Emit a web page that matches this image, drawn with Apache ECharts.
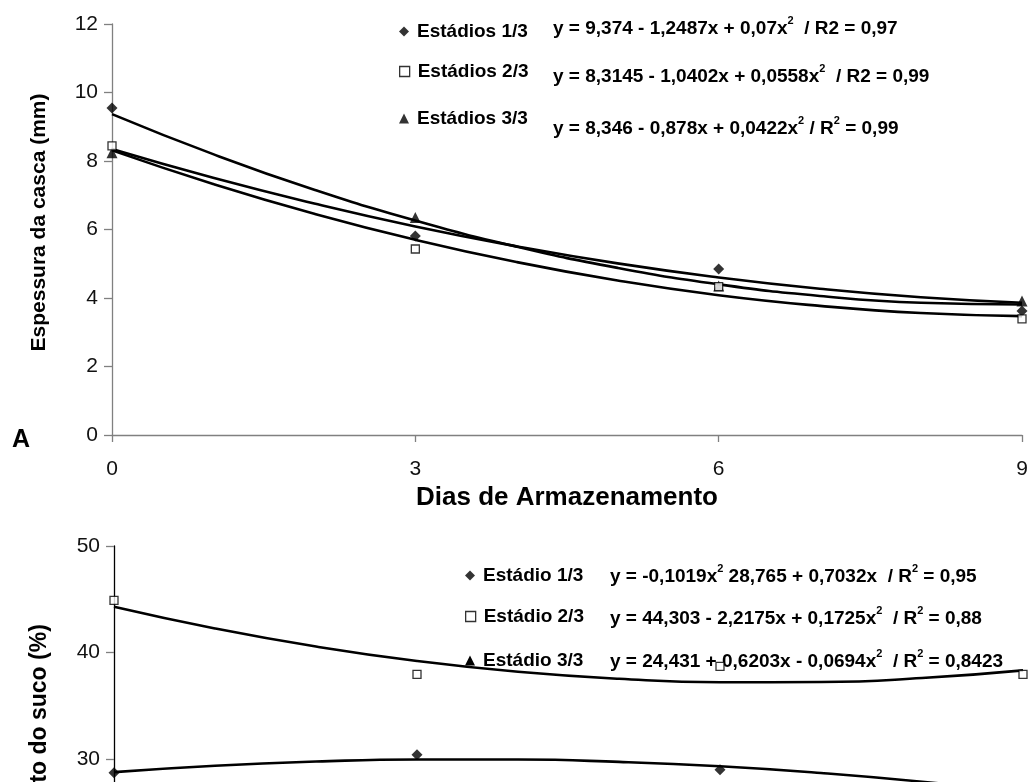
<!DOCTYPE html>
<html>
<head>
<meta charset="utf-8">
<script src="https://cdn.jsdelivr.net/npm/echarts@6/dist/echarts.min.js"></script>
<style>
  html, body { margin: 0; padding: 0; background: #fff; }
  #chart { width: 1030px; height: 782px; }
</style>
</head>
<body>
<div id="chart"></div>
<script>
// Storage days (x axis)
const days = [0, 3, 6, 9];
const curveDays = [0, 1, 2, 3, 4, 5, 6, 7, 8, 9];
const xTicks = ['0', '3', '6', '9'];

// Panel A: peel thickness (mm), observed means
const casca1 = [9.55, 5.81, 4.85, 3.62];
const casca2 = [8.44, 5.43, 4.33, 3.39];
const casca3 = [8.24, 6.35, 4.35, 3.91];
// Panel A: fitted quadratic curves
const cascaFit1 = [9.37, 8.20, 7.16, 6.26, 5.50, 4.88, 4.40, 4.06, 3.86, 3.81];
const cascaFit2 = [8.31, 7.33, 6.46, 5.70, 5.05, 4.51, 4.08, 3.77, 3.56, 3.47];
const cascaFit3 = [8.35, 7.51, 6.76, 6.09, 5.51, 5.01, 4.60, 4.27, 4.02, 3.86];

// Panel B: juice yield (%), observed means
const suco1 = [28.7, 30.4, 29.0, null];
const suco2 = [44.9, 37.95, 38.7, 37.95];
// Panel B: fitted quadratic curves
const sucoFit1 = [28.77, 29.37, 29.76, 29.96, 29.95, 29.73, 29.32, 28.69, 27.87, 26.84];
const sucoFit2 = [44.30, 42.26, 40.56, 39.20, 38.19, 37.53, 37.21, 37.23, 37.60, 38.32];
const sucoFit3 = [24.43, 24.98, 25.39, 25.67, 25.80, 25.80, 25.65, 25.37, 24.95, 24.39];

const namesA = ['Estádios 1/3', 'Estádios 2/3', 'Estádios 3/3'];
const namesB = ['Estádio 1/3', 'Estádio 2/3', 'Estádio 3/3'];

const FONT = '"Liberation Sans", Arial, Helvetica, sans-serif';

const pairs = (xs, ys) => xs.map((x, i) => [x, ys[i]]);

const styleDiamond = { color: '#000' };
const styleSquare = { color: '#fff', borderColor: '#000', borderWidth: 1.3 };
const styleTriangle = { color: '#000' };

function scatter(name, data, idx, symbol, size, itemStyle) {
  return {
    name, type: 'scatter', xAxisIndex: idx, yAxisIndex: idx,
    data, symbol, symbolSize: size, itemStyle, z: 5, silent: true
  };
}
function fitLine(name, values, idx) {
  return {
    name, type: 'line', xAxisIndex: idx, yAxisIndex: idx,
    data: pairs(curveDays, values), smooth: true, showSymbol: false,
    lineStyle: { color: '#000', width: 2.6 }, z: 3, silent: true
  };
}

const eqRich = {
  b: { fontFamily: FONT, fontWeight: 'bold', fontSize: 19, fill: '#000', color: '#000', verticalAlign: 'bottom', lineHeight: 23 },
  s: { fontFamily: FONT, fontWeight: 'bold', fontSize: 11, fill: '#000', color: '#000', verticalAlign: 'top', lineHeight: 23 }
};
function eq(x, y, text) {
  return {
    type: 'text', left: x, top: y,
    style: { text, rich: eqRich, fill: '#000' }, silent: true
  };
}

function legendBox(left, top, name, icon, itemStyle) {
  return {
    left, top, orient: 'vertical', itemWidth: 10, itemHeight: 10, itemGap: 0,
    selectedMode: false, padding: 0,
    textStyle: { fontFamily: FONT, fontWeight: 'bold', fontSize: 19, color: '#000', padding: [0, 0, 0, 3] },
    data: [{ name, icon, itemStyle }]
  };
}

const axisGray = '#808080';

const option = {
  backgroundColor: '#fff',
  animation: false,
  textStyle: { fontFamily: FONT },
  grid: [
    { left: 112, top: 24, width: 910, height: 411, outerBoundsMode: 'none', containLabel: false },
    { left: 114, top: 546, width: 909, height: 426, outerBoundsMode: 'none', containLabel: false }
  ],
  xAxis: [
    {
      gridIndex: 0, type: 'value', min: 0, max: 9, interval: 3,
      name: 'Dias de Armazenamento', nameLocation: 'middle', nameGap: 49,
      nameTextStyle: { fontFamily: FONT, fontWeight: 'bold', fontSize: 26, color: '#000' },
      axisLine: { lineStyle: { color: axisGray, width: 1.3 } },
      axisTick: { show: true, inside: false, length: 7, lineStyle: { color: axisGray, width: 1.3 } },
      axisLabel: { fontFamily: FONT, fontSize: 21, color: '#111', margin: 24,
        formatter: v => xTicks[days.indexOf(v)] },
      splitLine: { show: false }
    },
    {
      gridIndex: 1, type: 'value', min: 0, max: 9, interval: 3,
      axisLine: { lineStyle: { color: '#000', width: 1.3 } },
      axisTick: { length: 7, lineStyle: { color: '#000' } },
      axisLabel: { fontFamily: FONT, fontSize: 21, color: '#111', margin: 24 },
      splitLine: { show: false }
    }
  ],
  yAxis: [
    {
      gridIndex: 0, type: 'value', min: 0, max: 12, interval: 2,
      name: 'Espessura da casca (mm)', nameLocation: 'middle', nameGap: 62,
      nameTextStyle: { fontFamily: FONT, fontWeight: 'bold', fontSize: 21, color: '#000', padding: [0, 0, 0, 14] },
      axisLine: { show: true, lineStyle: { color: axisGray, width: 1.3 } },
      axisTick: { show: true, length: 8, lineStyle: { color: axisGray, width: 1.3 } },
      axisLabel: { fontFamily: FONT, fontSize: 21, color: '#111', margin: 14 },
      splitLine: { show: false }
    },
    {
      gridIndex: 1, type: 'value', min: 10, max: 50, interval: 10,
      name: 'Rendimento do suco (%)', nameLocation: 'middle', nameGap: 63,
      nameTextStyle: { fontFamily: FONT, fontWeight: 'bold', fontSize: 23, color: '#000' },
      axisLine: { show: true, lineStyle: { color: '#000', width: 1.3 } },
      axisTick: { show: true, length: 8, lineStyle: { color: axisGray, width: 1.3 } },
      axisLabel: { fontFamily: FONT, fontSize: 21, color: '#111', margin: 14 },
      splitLine: { show: false }
    }
  ],
  legend: [
    legendBox(399, 22, namesA[0], 'diamond', styleDiamond),
    legendBox(399, 62, namesA[1], 'rect', styleSquare),
    legendBox(399, 109, namesA[2], 'triangle', styleTriangle),
    legendBox(465, 566, namesB[0], 'diamond', styleDiamond),
    legendBox(465, 607, namesB[1], 'rect', styleSquare),
    legendBox(465, 651, namesB[2], 'triangle', styleTriangle)
  ],
  graphic: [
    { type: 'text', left: 12, top: 428,
      style: { text: 'A', font: 'bold 25px ' + FONT, fill: '#000' } },
    eq(553, 15, '{b|y = 9,374 - 1,2487x + 0,07x}{s|2}{b|  / R2 = 0,97}'),
    eq(553, 63, '{b|y = 8,3145 - 1,0402x + 0,0558x}{s|2}{b|  / R2 = 0,99}'),
    eq(553, 115, '{b|y = 8,346 - 0,878x + 0,0422x}{s|2}{b| / R}{s|2}{b| = 0,99}'),
    eq(610, 563, '{b|y = -0,1019x}{s|2}{b| 28,765 + 0,7032x  / R}{s|2}{b| = 0,95}'),
    eq(610, 605, '{b|y = 44,303 - 2,2175x + 0,1725x}{s|2}{b|  / R}{s|2}{b| = 0,88}'),
    eq(610, 648, '{b|y = 24,431 + 0,6203x - 0,0694x}{s|2}{b|  / R}{s|2}{b| = 0,8423}')
  ],
  series: [
    fitLine('fitA1', cascaFit1, 0),
    fitLine('fitA2', cascaFit2, 0),
    fitLine('fitA3', cascaFit3, 0),
    scatter(namesA[0], pairs(days, casca1), 0, 'diamond', 11, styleDiamond),
    scatter(namesA[2], pairs(days, casca3), 0, 'triangle', 11, styleTriangle),
    scatter(namesA[1], pairs(days, casca2), 0, 'rect', 8, styleSquare),

    fitLine('fitB1', sucoFit1, 1),
    fitLine('fitB2', sucoFit2, 1),
    fitLine(namesB[2], sucoFit3, 1),
    scatter(namesB[0], pairs(days, suco1), 1, 'diamond', 11, styleDiamond),
    scatter(namesB[1], pairs(days, suco2), 1, 'rect', 8, styleSquare)
  ]
};

const chart = echarts.init(document.getElementById('chart'), null, { renderer: 'canvas' });
chart.setOption(option);
</script>
</body>
</html>
